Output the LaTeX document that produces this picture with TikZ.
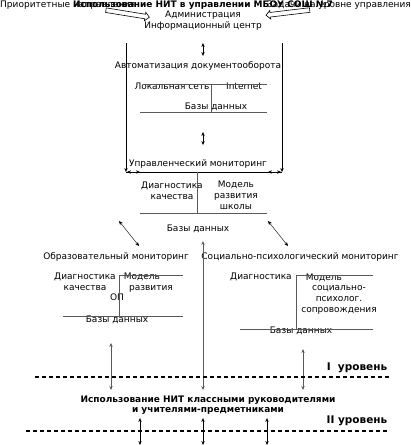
\documentclass[tikz,border=0pt]{standalone}
\usepackage{fontspec}
\setmainfont{DejaVu Sans}
\usetikzlibrary{arrows.meta,shapes.arrows}

\begin{document}
\begin{tikzpicture}[
    x=1pt, y=-1pt,
    plaintext/.style={inner sep=0pt, font=\fontsize{9}{11}\selectfont, align=center, anchor=base},
    boldtext/.style={inner sep=0pt, font=\fontsize{9}{10}\selectfont\bfseries, align=center, anchor=base},
    leveltext/.style={boldtext, font=\fontsize{10.5}{12}\selectfont\bfseries},
    bar/.style={draw=black!65, line width=0.9pt},
    twoway/.style={{Stealth[length=4pt,width=3.4pt]}-{Stealth[length=4pt,width=3.4pt]}},
    oneway/.style={-{Stealth[length=4pt,width=3.4pt]}},
    levelline/.style={line width=1.8pt, dash pattern=on 4pt off 3pt},
    hollowarrow/.style={single arrow, draw, line width=0.6pt, minimum height=44pt, minimum width=8pt, single arrow head extend=2pt, inner sep=2pt}
]
\useasboundingbox (0,0) rectangle (411,445);

% heading
\node[plaintext, anchor=base west] (prio) at (0,7) {Приоритетные направления};
\node[plaintext, anchor=base east] (tasks) at (411,7) {Задачи на уровне управления};
\node[boldtext] (title) at (203,7) {Использование НИТ в управлении МБОУ СОШ №7};
\node[hollowarrow, rotate=-9.2] (larrow) at (126.5,13.5) {};
\node[hollowarrow, rotate=186.8] (rarrow) at (289,12.5) {};
\node[plaintext] (admin) at (203,17) {Администрация};
\node[plaintext] (center) at (203,28) {Информационный центр};

% management level
\node[plaintext] (autodoc) at (198,68) {Автоматизация документооборота};
\node[plaintext] (lan) at (172,89) {Локальная сеть};
\node[plaintext] (inet) at (244,89) {Internet};
\node[plaintext] (db1) at (216,109) {Базы данных};
\node[plaintext] (mgmt) at (198,166) {Управленческий мониторинг};
\node[plaintext] (diag1) at (172,199) {Диагностика\\качества};
\node[plaintext] (model1) at (236,209) {Модель\\развития\\школы};
\node[plaintext] (db2) at (198,231) {Базы данных};

% two kinds of monitoring
\node[plaintext] (edu) at (116,259) {Образовательный мониторинг};
\node[plaintext] (soc) at (300,259) {Социально-психологический мониторинг};
\node[plaintext] (diag2) at (85,290) {Диагностика\\качества};
\node[plaintext] (model2) at (142,279) {Модель};
\node[plaintext] (razv) at (151,290) {развития};
\node[plaintext] (op) at (117,300) {ОП};
\node[plaintext] (db3) at (117,322) {Базы данных};
\node[plaintext] (diag3) at (261,279) {Диагностика};
\node[plaintext] (model3) at (324,280) {Модель};
\node[plaintext] (socsup) at (339,312) {социально-\\психолог.\\сопровождения};
\node[plaintext] (db4) at (301,333) {Базы данных};

% levels
\node[leveltext] (lev1) at (357,370) {I\ \ уровень};
\node[boldtext] (teachers) at (208,412) {Использование НИТ классными руководителями\\и учителями-предметниками};
\node[leveltext] (lev2) at (357,423) {II уровень};

% frame
\coordinate (ltop) at (126,43);
\coordinate (lbot) at (126,172);
\coordinate (rtop) at (282,43);
\coordinate (rbot) at (282,172);
\draw[oneway] (ltop) -- (lbot);
\draw[oneway] (rtop) -- (rbot);
\draw (lbot) -- (rbot);
\coordinate (lend) at (127,172);
\coordinate (lin) at (140,172);
\coordinate (rend) at (281,172);
\coordinate (rin) at (268,172);
\draw[twoway] (lend) -- (lin);
\draw[twoway] (rend) -- (rin);

% document flow block
\coordinate (d1) at (143,84);
\coordinate (d2) at (267,84);
\coordinate (d3) at (211,84);
\coordinate (d4) at (211,112);
\coordinate (d5) at (140,112);
\coordinate (d6) at (267,112);
\draw[bar] (d1) -- (d2);
\draw[bar] (d3) -- (d4);
\draw[bar] (d5) -- (d6);

% monitoring block
\coordinate (m1) at (197,172);
\coordinate (m2) at (197,213);
\coordinate (m3) at (140,213);
\coordinate (m4) at (267,213);
\draw[bar] (m1) -- (m2);
\draw[bar] (m3) -- (m4);

% educational block
\coordinate (e1) at (119,275);
\coordinate (e2) at (183,275);
\coordinate (e3) at (119,316);
\coordinate (e4) at (63,316);
\coordinate (e5) at (183,316);
\draw[bar] (e1) -- (e2);
\draw[bar] (e1) -- (e3);
\draw[bar] (e4) -- (e5);

% social block
\coordinate (s1) at (296,275);
\coordinate (s2) at (373,275);
\coordinate (s3) at (296,329);
\coordinate (s4) at (240,329);
\coordinate (s5) at (373,329);
\draw[bar] (s1) -- (s2);
\draw[bar] (s1) -- (s3);
\draw[bar] (s4) -- (s5);

% arrows between parts
\coordinate (a1) at (203,43);  \coordinate (a2) at (203,56);
\coordinate (a3) at (203,132); \coordinate (a4) at (203,145);
\coordinate (a5) at (119,221); \coordinate (a6) at (139,246);
\coordinate (a7) at (268,221); \coordinate (a8) at (288,246);
\draw[twoway] (a1) -- (a2);
\draw[twoway] (a3) -- (a4);
\draw[twoway] (a5) -- (a6);
\draw[twoway] (a7) -- (a8);
\coordinate (up1) at (203,241); \coordinate (dn1) at (203,390);
\coordinate (up2) at (111,343); \coordinate (dn2) at (111,390);
\coordinate (up3) at (303,349); \coordinate (dn3) at (303,390);
\draw[bar, twoway] (up1) -- (dn1);
\draw[bar, twoway] (up2) -- (dn2);
\draw[bar, twoway] (up3) -- (dn3);
\foreach \x [count=\i] in {140,203,267} {
  \coordinate (t\i) at (\x,418);
  \coordinate (b\i) at (\x,445);
  \draw[twoway] (t\i) -- (b\i);
}

% level borders
\coordinate (l1a) at (35,377);  \coordinate (l1b) at (391,377);
\coordinate (l2a) at (26,431);  \coordinate (l2b) at (387,431);
\draw[levelline] (l1a) -- (l1b);
\draw[levelline] (l2a) -- (l2b);
\end{tikzpicture}
\end{document}
